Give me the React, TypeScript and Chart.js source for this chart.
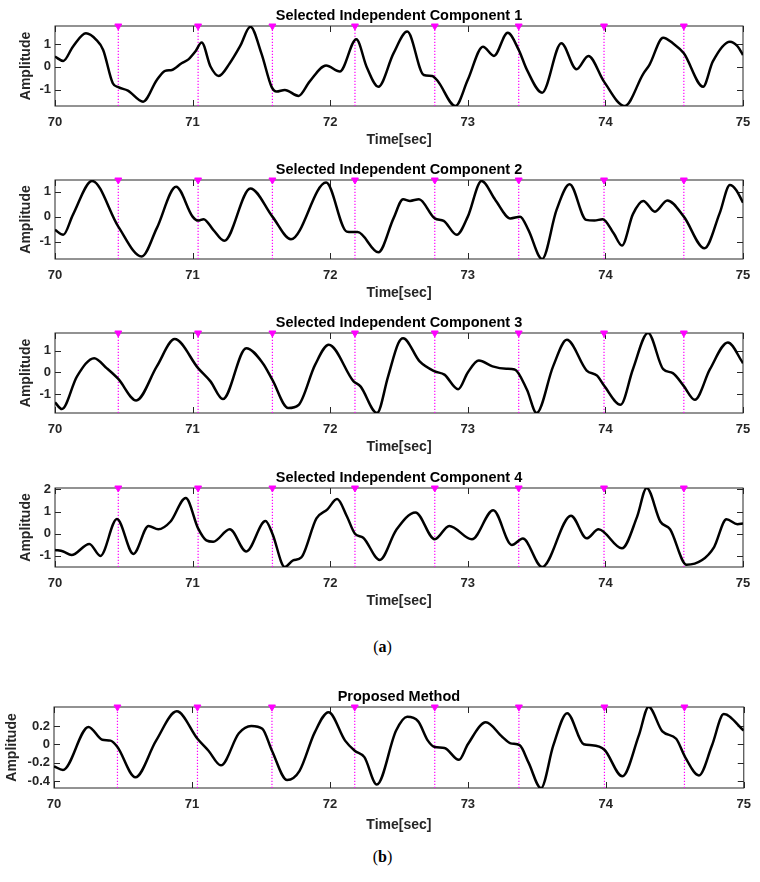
import React, { useEffect, useRef } from "react";
import { Chart, registerables } from "chart.js";

Chart.register(...registerables);

// ---------- data ----------
const eventTimes = [70.46, 71.04, 71.58, 72.18, 72.76, 73.37, 73.99, 74.57];
const xTickValues = [70, 71, 72, 73, 74, 75];

const ic1Time = [70.0, 70.06, 70.13, 70.225, 70.3, 70.35, 70.42, 70.46, 70.53, 70.64, 70.74, 70.8, 70.85, 70.92, 70.97, 71.02, 71.066, 71.13, 71.19, 71.27, 71.345, 71.42, 71.5, 71.575, 71.61, 71.67, 71.77, 71.85, 71.97, 72.07, 72.19, 72.265, 72.35, 72.46, 72.56, 72.68, 72.74, 72.78, 72.91, 73.0, 73.11, 73.19, 73.29, 73.37, 73.43, 73.54, 73.68, 73.79, 73.876, 73.99, 74.14, 74.275, 74.32, 74.42, 74.49, 74.57, 74.71, 74.78, 74.905, 74.96, 75.0];
const ic1Amp = [0.45, 0.26, 0.88, 1.46, 1.18, 0.74, -0.71, -0.88, -1.03, -1.51, -0.57, -0.17, -0.13, 0.16, 0.33, 0.67, 1.06, 0.02, -0.39, 0.16, 0.9, 1.75, 0.59, -0.88, -1.07, -1.0, -1.26, -0.64, 0.06, -0.2, 1.2, 0.0, -0.86, 0.59, 1.54, -0.35, -0.39, -0.6, -1.7, -0.56, 0.88, 0.48, 1.49, 0.74, -0.13, -1.12, 1.03, -0.1, 0.48, -0.64, -1.7, -0.3, 0.09, 1.27, 1.03, 0.59, -0.86, 0.23, 1.1, 0.9, 0.52];
const ic1YTicks = [-1, 0, 1];

const ic2Time = [70.0, 70.06, 70.13, 70.27, 70.46, 70.63, 70.74, 70.88, 71.0, 71.04, 71.08, 71.15, 71.23, 71.42, 71.58, 71.715, 71.97, 72.12, 72.16, 72.2, 72.35, 72.46, 72.53, 72.58, 72.645, 72.76, 72.825, 72.92, 73.0, 73.1, 73.2, 73.31, 73.38, 73.44, 73.54, 73.645, 73.74, 73.86, 73.92, 73.98, 74.06, 74.12, 74.2, 74.275, 74.36, 74.45, 74.57, 74.72, 74.83, 74.905, 74.95, 75.0];
const ic2Amp = [-0.53, -0.73, 0.07, 1.43, -0.4, -1.6, -0.46, 1.2, 0.0, -0.16, -0.1, -0.53, -0.97, 1.13, 0.0, -0.91, 1.37, -0.6, -0.62, -0.62, -1.43, -0.07, 0.7, 0.63, 0.7, -0.07, -0.17, -0.73, 0.0, 1.43, 0.67, -0.07, 0.0, -0.53, -1.7, 0.27, 1.3, -0.13, -0.16, -0.1, -0.67, -1.16, 0.1, 0.63, 0.2, 0.65, 0.0, -1.27, 0.13, 1.27, 1.07, 0.56];
const ic2YTicks = [-1, 0, 1];

const ic3Time = [70.0, 70.05, 70.16, 70.285, 70.375, 70.46, 70.59, 70.74, 70.87, 71.04, 71.13, 71.22, 71.39, 71.51, 71.58, 71.695, 71.77, 71.89, 71.99, 72.17, 72.22, 72.34, 72.42, 72.495, 72.53, 72.65, 72.76, 72.83, 72.93, 73.0, 73.08, 73.18, 73.28, 73.34, 73.43, 73.5, 73.62, 73.72, 73.864, 73.94, 73.99, 74.11, 74.2, 74.31, 74.42, 74.49, 74.57, 74.65, 74.76, 74.89, 75.0];
const ic3Amp = [-1.38, -1.69, -0.18, 0.66, 0.2, -0.3, -1.29, 0.28, 1.54, 0.2, -0.41, -1.23, 1.12, 0.43, -0.34, -1.64, -1.5, 0.35, 1.28, -0.41, -0.64, -1.87, -0.2, 1.35, 1.58, 0.51, 0.05, -0.1, -0.77, 0.0, 0.55, 0.28, 0.17, 0.14, -0.8, -1.87, 0.28, 1.51, 0.09, -0.15, -0.6, -1.49, 0.15, 1.82, 0.15, -0.03, -0.63, -1.26, 0.15, 1.38, 0.43];
const ic3YTicks = [-1, 0, 1];

const ic4Time = [70.0, 70.06, 70.12, 70.25, 70.33, 70.45, 70.57, 70.68, 70.75, 70.84, 70.95, 71.04, 71.1, 71.15, 71.27, 71.39, 71.53, 71.58, 71.67, 71.73, 71.79, 71.9, 71.98, 72.05, 72.12, 72.18, 72.24, 72.36, 72.48, 72.62, 72.76, 72.865, 73.03, 73.185, 73.32, 73.4, 73.54, 73.75, 73.864, 73.95, 74.12, 74.23, 74.3, 74.4, 74.47, 74.59, 74.7, 74.79, 74.88, 74.96, 75.0];
const ic4Amp = [-0.73, -0.8, -0.96, -0.46, -1.0, 0.66, -0.91, 0.35, 0.2, 0.55, 1.61, 0.24, -0.3, -0.36, 0.2, -0.8, 0.57, 0.0, -1.5, -1.2, -1.07, 0.69, 1.1, 1.56, 0.8, 0.0, -0.18, -1.18, 0.17, 0.96, -0.25, 0.35, -0.25, 1.06, -0.51, -0.22, -1.5, 0.81, -0.21, 0.2, -0.66, 0.76, 2.06, 0.54, 0.2, -1.4, -1.2, -0.6, 0.65, 0.43, 0.46];
const ic4YTicks = [-1, 0, 1, 2];

const propTime = [70.0, 70.065, 70.25, 70.35, 70.41, 70.46, 70.59, 70.74, 70.89, 71.04, 71.12, 71.21, 71.34, 71.43, 71.51, 71.58, 71.69, 71.78, 71.89, 71.99, 72.11, 72.18, 72.25, 72.34, 72.48, 72.56, 72.64, 72.71, 72.76, 72.83, 72.935, 73.0, 73.13, 73.25, 73.31, 73.375, 73.44, 73.53, 73.62, 73.72, 73.84, 73.9, 73.99, 74.12, 74.24, 74.31, 74.41, 74.51, 74.575, 74.675, 74.77, 74.855, 75.0];
const propAmp = [-0.24, -0.28, 0.19, 0.05, 0.04, -0.03, -0.36, 0.04, 0.36, 0.06, -0.07, -0.23, 0.12, 0.2, 0.17, -0.07, -0.39, -0.29, 0.13, 0.35, 0.04, -0.07, -0.14, -0.44, 0.15, 0.3, 0.25, 0.04, -0.03, -0.04, -0.17, 0.0, 0.24, 0.08, 0.01, -0.01, -0.2, -0.48, -0.01, 0.34, 0.0, -0.01, -0.06, -0.35, 0.1, 0.41, 0.14, 0.06, -0.14, -0.34, -0.01, 0.33, 0.15];
const propYTicks = [-0.4, -0.2, 0, 0.2];

// ---------- layout ----------
const FONT = '"Liberation Sans", Arial, Helvetica, sans-serif';
Chart.defaults.font.family = FONT;

type PanelSpec = {
  title: string;
  time: number[];
  amp: number[];
  yTicks: number[];
  yMin: number;
  yMax: number;
  top: number;
  bottom: number;
  left: number;
  right: number;
  xTitleH: number;
  yTitlePad: number;
};

const panels: PanelSpec[] = [
  { title: "Selected Independent Component 1", time: ic1Time, amp: ic1Amp, yTicks: ic1YTicks, yMin: -1.7, yMax: 1.78, top: 26, bottom: 106, left: 55, right: 743, xTitleH: 43, yTitlePad: 14 },
  { title: "Selected Independent Component 2", time: ic2Time, amp: ic2Amp, yTicks: ic2YTicks, yMin: -1.7, yMax: 1.47, top: 180, bottom: 259, left: 55, right: 743, xTitleH: 43, yTitlePad: 14 },
  { title: "Selected Independent Component 3", time: ic3Time, amp: ic3Amp, yTicks: ic3YTicks, yMin: -1.87, yMax: 1.82, top: 333, bottom: 413, left: 55, right: 743, xTitleH: 43, yTitlePad: 14 },
  { title: "Selected Independent Component 4", time: ic4Time, amp: ic4Amp, yTicks: ic4YTicks, yMin: -1.5, yMax: 2.06, top: 488, bottom: 567, left: 55, right: 743, xTitleH: 43, yTitlePad: 14 },
  { title: "Proposed Method", time: propTime, amp: propAmp, yTicks: propYTicks, yMin: -0.477, yMax: 0.407, top: 707, bottom: 788, left: 54, right: 748, xTitleH: 46, yTitlePad: 0 },
];

const PAD_TOP = 26;
const PAD_BOTTOM = 4;
const PAD_LEFT = 4;
const TICK_LEN = 6;
const EVENT_COLOR = "rgb(255, 0, 255)";

function Panel({ p }: { p: PanelSpec }) {
  const ref = useRef<HTMLCanvasElement | null>(null);
  const height = p.bottom - p.top + PAD_TOP + p.xTitleH + PAD_BOTTOM;

  useEffect(() => {
    const canvas = ref.current;
    if (!canvas) return;

    const eventLines: { x: number; y: number | null }[] = [];
    eventTimes.forEach((t) => {
      eventLines.push({ x: t, y: p.yMin });
      eventLines.push({ x: t, y: p.yMax });
      eventLines.push({ x: t, y: null });
    });

    const decor = {
      id: "decor",
      beforeDatasetsDraw(chart: any) {
        const { ctx, chartArea: a, scales } = chart;
        const xs = scales.x;
        const ys = scales.y;
        ctx.save();
        ctx.strokeStyle = "#262626";
        ctx.lineWidth = 1;
        ctx.strokeRect(a.left, a.top, a.right - a.left, a.bottom - a.top);
        ctx.beginPath();
        xTickValues.forEach((v) => {
          const px = Math.round(xs.getPixelForValue(v)) + 0.5;
          ctx.moveTo(px, a.bottom);
          ctx.lineTo(px, a.bottom - TICK_LEN);
          ctx.moveTo(px, a.top);
          ctx.lineTo(px, a.top + TICK_LEN);
        });
        p.yTicks.forEach((v) => {
          const py = Math.round(ys.getPixelForValue(v)) + 0.5;
          ctx.moveTo(a.left, py);
          ctx.lineTo(a.left + TICK_LEN, py);
          ctx.moveTo(a.right, py);
          ctx.lineTo(a.right - TICK_LEN, py);
        });
        ctx.stroke();
        ctx.restore();
      },
      afterDraw(chart: any) {
        const { ctx, chartArea: a } = chart;
        ctx.save();
        ctx.fillStyle = "#000";
        ctx.font = `bold 14.5px ${FONT}`;
        ctx.textAlign = "center";
        ctx.textBaseline = "middle";
        ctx.fillText(p.title, (a.left + a.right) / 2, a.top - 10.5);
        ctx.restore();
      },
    };

    const chart = new Chart(canvas, {
      type: "line",
      data: {
        datasets: [
          {
            data: p.time.map((t, i) => ({ x: t, y: p.amp[i] })),
            borderColor: "#000",
            borderWidth: 2.5,
            pointRadius: 0,
            cubicInterpolationMode: "monotone",
            fill: false,
          },
          {
            data: eventLines,
            borderColor: EVENT_COLOR,
            backgroundColor: EVENT_COLOR,
            borderWidth: 1.2,
            borderDash: [1.2, 1.8],
            pointRadius: 0,
            spanGaps: false,
            fill: false,
          },
          {
            data: eventTimes.map((t) => ({ x: t, y: p.yMax })),
            showLine: false,
            pointStyle: "triangle",
            rotation: 180,
            pointRadius: 4,
            backgroundColor: EVENT_COLOR,
            borderColor: EVENT_COLOR,
            borderWidth: 1,
            clip: false,
          } as any,
        ],
      },
      options: {
        responsive: false,
        animation: false,
        devicePixelRatio: 1,
        events: [],
        layout: { padding: { left: PAD_LEFT, right: 760 - p.right, top: PAD_TOP, bottom: PAD_BOTTOM } },
        plugins: {
          legend: { display: false },
          tooltip: { enabled: false },
          title: { display: false },
        },
        scales: {
          x: {
            type: "linear",
            min: 70,
            max: 75,
            afterBuildTicks: (s: any) => {
              s.ticks = xTickValues.map((v) => ({ value: v }));
            },
            afterFit: (s: any) => {
              s.height = p.xTitleH;
            },
            ticks: {
              autoSkip: false,
              maxRotation: 0,
              padding: 9,
              color: "#262626",
              font: { size: 13, weight: "bold" },
            },
            grid: { display: false, drawTicks: false },
            border: { display: false },
            title: {
              display: true,
              text: "Time[sec]",
              color: "#262626",
              padding: 0,
              font: { size: 14, weight: "bold" },
            },
          },
          y: {
            type: "linear",
            min: p.yMin,
            max: p.yMax,
            afterBuildTicks: (s: any) => {
              s.ticks = p.yTicks.map((v) => ({ value: v }));
            },
            afterFit: (s: any) => {
              s.width = p.left - PAD_LEFT;
            },
            ticks: {
              padding: 4,
              color: "#262626",
              font: { size: 13, weight: "bold" },
            },
            grid: { display: false, drawTicks: false },
            border: { display: false },
            title: {
              display: true,
              text: "Amplitude",
              color: "#262626",
              padding: { top: p.yTitlePad, bottom: 0 },
              font: { size: 14, weight: "bold" },
            },
          },
        },
      } as any,
      plugins: [decor],
    });

    return () => chart.destroy();
  }, [p]);

  return (
    <canvas
      ref={ref}
      width={760}
      height={height}
      style={{ position: "absolute", left: 0, top: p.top - PAD_TOP, width: 760, height }}
    />
  );
}

const captionStyle: React.CSSProperties = {
  position: "absolute",
  left: 0,
  width: 765,
  textAlign: "center",
  fontFamily: '"Liberation Serif", "Times New Roman", serif',
  fontSize: 16,
  lineHeight: "20px",
  color: "#000",
};

export default function App() {
  return (
    <div style={{ position: "absolute", left: 0, top: 0, width: 760, height: 882, background: "#fff" }}>
      {panels.map((p, i) => (
        <Panel key={i} p={p} />
      ))}
      <div style={{ ...captionStyle, top: 637 }}>
        (<b>a</b>)
      </div>
      <div style={{ ...captionStyle, top: 847 }}>
        (<b>b</b>)
      </div>
    </div>
  );
}
